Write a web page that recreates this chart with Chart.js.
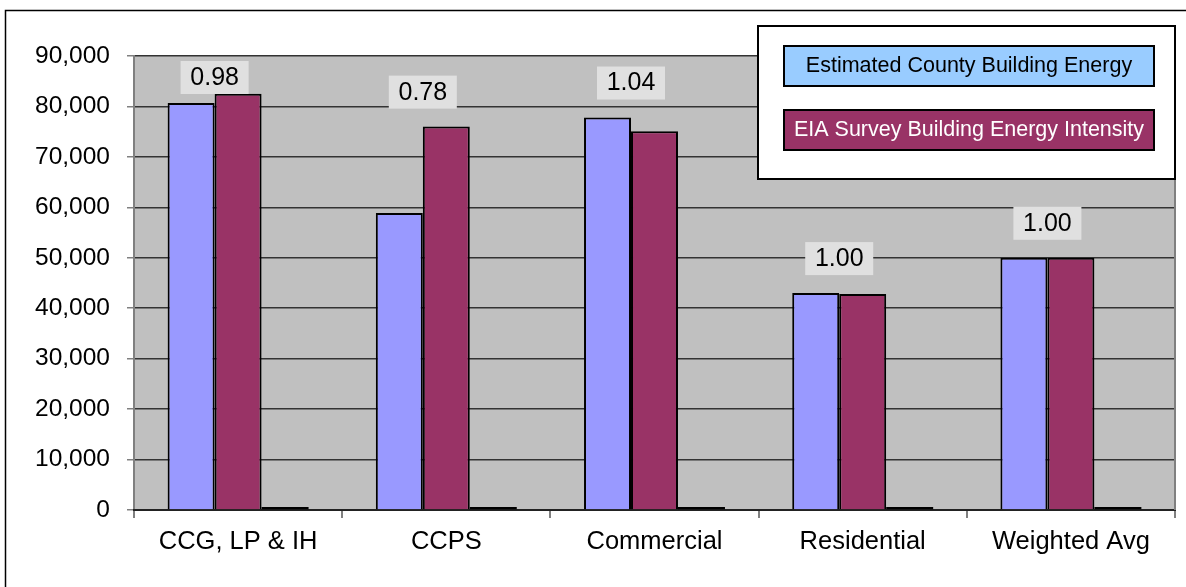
<!DOCTYPE html>
<html>
<head>
<meta charset="utf-8">
<script src="https://cdn.jsdelivr.net/npm/chart.js@4/dist/chart.umd.min.js"></script>
<style>
  body { margin: 0; background: #fff; }
  #wrap { position: relative; width: 1186px; height: 587px; }
</style>
</head>
<body>
<div id="wrap"><canvas id="energyChart"></canvas></div>
<script>
const categories = ['CCG, LP & IH', 'CCPS', 'Commercial', 'Residential', 'Weighted Avg'];
const countyEnergy = [80700, 58900, 77800, 43000, 50000];
const eiaIntensity = [82500, 76000, 75100, 42800, 50000];
const thirdSeries = [0, 0, 0, 0, 0];
const ratioLabels = ['0.98', '0.78', '1.04', '1.00', '1.00'];
const yTicks = [0, 10000, 20000, 30000, 40000, 50000, 60000, 70000, 80000, 90000];

const FONT = "'Liberation Sans', Arial, sans-serif";

const decorations = {
    id: 'decorations',
    beforeDraw(chart) {
        const { ctx, chartArea: a } = chart;
        ctx.save();
        ctx.fillStyle = '#fff';
        ctx.fillRect(0, 0, chart.width, chart.height);
        // outer frame
        ctx.strokeStyle = '#000';
        ctx.lineWidth = 1.5;
        ctx.beginPath();
        ctx.moveTo(5.5, chart.height);
        ctx.lineTo(5.5, 10.5);
        ctx.lineTo(chart.width, 10.5);
        ctx.stroke();
        // plot background
        ctx.fillStyle = '#c0c0c0';
        ctx.fillRect(a.left, a.top, a.right - a.left, a.bottom - a.top);
        ctx.restore();
    },
    afterDraw(chart) {
        const { ctx, chartArea: a } = chart;
        ctx.save();
        // right edge of plot
        ctx.strokeStyle = '#808080';
        ctx.lineWidth = 2;
        ctx.beginPath();
        ctx.moveTo(a.right, a.top);
        ctx.lineTo(a.right, a.bottom);
        ctx.stroke();

        // ratio labels
        const m0 = chart.getDatasetMeta(0).data;
        const m1 = chart.getDatasetMeta(1).data;
        ctx.font = '25px ' + FONT;
        ctx.textAlign = 'center';
        ctx.textBaseline = 'middle';
        ratioLabels.forEach((txt, i) => {
            const x = (m0[i].x + m1[i].x) / 2;
            const top = Math.min(m0[i].y, m1[i].y);
            const cy = Math.max(top - 35, a.top + 21);
            ctx.fillStyle = '#e0e0e0';
            ctx.fillRect(x - 34, cy - 16, 68, 33);
            ctx.fillStyle = '#000';
            ctx.fillText(txt, x, cy + 1);
        });

        // legend
        ctx.fillStyle = '#fff';
        ctx.fillRect(758, 26, 417, 153);
        ctx.strokeStyle = '#000';
        ctx.lineWidth = 2;
        ctx.strokeRect(758, 26, 417, 153);
        const items = [
            { text: chart.data.datasets[0].label, fill: '#99ccff', color: '#000', y: 46 },
            { text: chart.data.datasets[1].label, fill: '#993366', color: '#fff', y: 110 }
        ];
        ctx.font = '21.5px ' + FONT;
        items.forEach(it => {
            ctx.fillStyle = it.fill;
            ctx.fillRect(784, it.y, 370, 40);
            ctx.strokeRect(784, it.y, 370, 40);
            ctx.fillStyle = it.color;
            ctx.fillText(it.text, 969, it.y + 20);
        });
        ctx.restore();
    }
};

const ctx = document.getElementById('energyChart').getContext('2d');

new Chart(ctx, {
    type: 'bar',
    data: {
        labels: categories,
        datasets: [
            {
                label: 'Estimated County Building Energy',
                data: countyEnergy,
                backgroundColor: '#9999ff',
                borderColor: '#000',
                borderWidth: 2
            },
            {
                label: 'EIA Survey Building Energy Intensity',
                data: eiaIntensity,
                backgroundColor: '#993366',
                borderColor: '#000',
                borderWidth: 2
            },
            {
                label: '',
                data: thirdSeries,
                backgroundColor: '#000',
                borderWidth: 0,
                minBarLength: 3
            }
        ]
    },
    options: {
        responsive: true,
        maintainAspectRatio: false,
        animation: false,
        layout: { padding: { top: 56, right: 11, left: 0, bottom: 0 } },
        datasets: {
            bar: { categoryPercentage: 0.677, barPercentage: 1.0 }
        },
        plugins: {
            legend: { display: false },
            tooltip: { enabled: false }
        },
        scales: {
            y: {
                min: 0,
                max: 90000,
                afterFit: scale => { scale.width = 134; },
                afterBuildTicks: scale => { scale.ticks = yTicks.map(v => ({ value: v })); },
                grid: {
                    color: '#333',
                    lineWidth: 1.5,
                    tickColor: '#808080',
                    tickLength: 7
                },
                border: { color: '#808080', width: 2 },
                ticks: {
                    color: '#000',
                    padding: 17,
                    font: { family: FONT, size: 24.5 },
                    callback: value => value.toLocaleString('en-US')
                }
            },
            x: {
                afterFit: scale => { scale.height = 77; },
                grid: {
                    offset: true,
                    drawOnChartArea: false,
                    color: '#808080',
                    tickLength: 8,
                    lineWidth: 2
                },
                border: { color: '#222', width: 2 },
                ticks: {
                    color: '#000',
                    padding: 9,
                    font: { family: FONT, size: 25.5 }
                }
            }
        }
    },
    plugins: [decorations]
});
</script>
</body>
</html>
